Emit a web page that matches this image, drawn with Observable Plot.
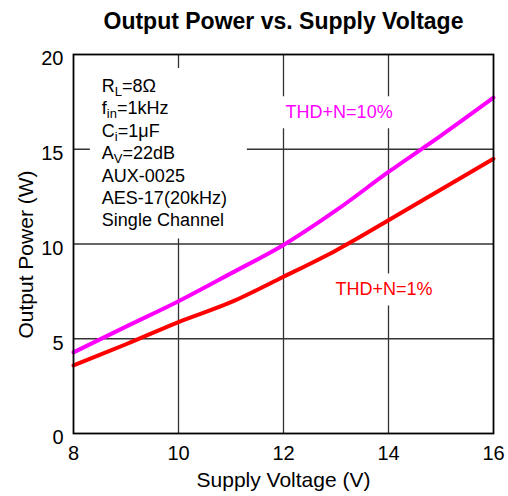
<!DOCTYPE html>
<html><head><meta charset="utf-8">
<script src="https://cdn.jsdelivr.net/npm/d3@7"></script>
<script src="https://cdn.jsdelivr.net/npm/@observablehq/plot@0.6"></script>
<style>
html,body{margin:0;padding:0;background:#fff;}
#title{box-sizing:border-box;height:42px;padding-top:10px;width:419px;margin-left:74px;text-align:center;
  font:bold 23px 'Liberation Sans',Arial,sans-serif;line-height:23px;color:#000;white-space:nowrap;}
#chart svg{display:block;}
</style>
</head><body>
<div id="title">Output Power vs. Supply Voltage</div>
<div id="chart"></div>
<script>
const FONT = "'Liberation Sans', Arial, sans-serif";
// data
const voltage = [8, 9, 10, 11, 12, 13, 14, 15, 16];
const power10 = [4.28, 5.64, 6.98, 8.45, 9.95, 11.77, 13.8, 15.72, 17.72];
const power1  = [3.59, 4.71, 5.88, 6.93, 8.27, 9.66, 11.25, 12.88, 14.5];
const xTicks = [8, 10, 12, 14, 16];
const yTicks = [0, 5, 10, 15, 20];
const xGrid = [10, 12, 14];
const yGrid = [5, 10, 15];
const xLabel = "Supply Voltage (V)";
const yLabel = "Output Power (W)";
const notes = ["R_{L}=8Ω", "f_{in}=1kHz", "C_{i}=1μF", "A_{V}=22dB", "AUX-0025", "AES-17(20kHz)", "Single Channel"];
const noteX = [8.54];
const noteY = [18.86];
const label10 = ["THD+N=10%"];
const label10X = [12.04];
const label10Y = [16.94];
const label1 = ["THD+N=1%"];
const label1X = [12.99];
const label1Y = [7.59];
const MAGENTA = "#ff00ff", RED = "#ff0000";

const chart = Plot.plot({
  width: 508, height: 454,
  marginTop: 12, marginRight: 15, marginBottom: 63, marginLeft: 73,
  style: {fontFamily: FONT, fontSize: "20px", color: "#000", background: "#fff", overflow: "visible"},
  x: {domain: [8, 16]},
  y: {domain: [0, 20]},
  marks: [
    Plot.gridX(xGrid, {stroke: "#333", strokeOpacity: 1, strokeWidth: 1.3}),
    Plot.gridY(yGrid, {stroke: "#333", strokeOpacity: 1, strokeWidth: 1.3}),
    Plot.text([notes.join("\n")], {x: noteX, y: noteY, text: d => d, textAnchor: "start", lineAnchor: "top",
      lineHeight: 1.245, fontSize: 18, fill: "#000"}),
    Plot.text(label10, {x: label10X, y: label10Y, text: d => d, textAnchor: "start", fontSize: 18, fill: MAGENTA}),
    Plot.text(label1, {x: label1X, y: label1Y, text: d => d, textAnchor: "start", fontSize: 18, fill: RED}),
    Plot.lineY(power1, {x: voltage, stroke: RED, strokeWidth: 4, curve: "catmull-rom"}),
    Plot.lineY(power10, {x: voltage, stroke: MAGENTA, strokeWidth: 4, curve: "catmull-rom"}),
    Plot.frame({stroke: "#000", strokeWidth: 1.8}),
    Plot.axisX(xTicks, {tickSize: 0, tickPadding: 12, fontSize: 20, label: null}),
    Plot.axisY(yTicks, {tickSize: 0, tickPadding: 10, fontSize: 20, dy: 4.5, label: null}),
    Plot.text([xLabel], {frameAnchor: "bottom", text: d => d, textAnchor: "middle", lineAnchor: "middle",
      dy: 46.3, fontSize: 21, fill: "#000"}),
    Plot.text([yLabel], {frameAnchor: "left", text: d => d, textAnchor: "middle", lineAnchor: "middle",
      rotate: -90, dx: -47.4, dy: 10.5, fontSize: 21, fill: "#000"})
  ]
});
document.getElementById("chart").appendChild(chart);

const NS = "http://www.w3.org/2000/svg";
function mk(tag, txt) { const e = document.createElementNS(NS, tag); if (txt != null) e.textContent = txt; return e; }
function subscriptify(el) {
  const s = el.textContent;
  if (!s.includes("_{")) return;
  el.textContent = "";
  const re = /_\{([^}]*)\}/g;
  let last = 0, m, shifted = false;
  const push = (t) => { const ts = mk("tspan", t); if (shifted) { ts.setAttribute("dy", "-4"); shifted = false; } el.appendChild(ts); };
  while ((m = re.exec(s))) {
    if (m.index > last) push(s.slice(last, m.index));
    const sub = mk("tspan", m[1]);
    sub.setAttribute("dy", "4");
    sub.setAttribute("font-size", "0.72em");
    el.appendChild(sub);
    shifted = true;
    last = re.lastIndex;
  }
  if (last < s.length) push(s.slice(last));
}
const boxed = [
  {text: notes.join(""), pad: [8, 20, 8, 12]},
  {text: label10[0], pad: [6, 4, 6, 4]},
  {text: label1[0], pad: [6, 4, 6, 4]}
];
chart.querySelectorAll("text").forEach(t => {
  const b = boxed.find(d => d.text === t.textContent);
  if (!b) return;
  t.querySelectorAll("tspan").forEach(subscriptify);
  const bb = t.getBBox();
  const [pt, pr, pb, pl] = b.pad;
  const r = mk("rect");
  r.setAttribute("x", bb.x - pl);
  r.setAttribute("y", bb.y - pt);
  r.setAttribute("width", bb.width + pl + pr);
  r.setAttribute("height", bb.height + pt + pb);
  r.setAttribute("fill", "#fff");
  r.setAttribute("stroke", "none");
  const tr = t.getAttribute("transform");
  if (tr) r.setAttribute("transform", tr);
  t.parentNode.insertBefore(r, t);
});
</script>
</body></html>
